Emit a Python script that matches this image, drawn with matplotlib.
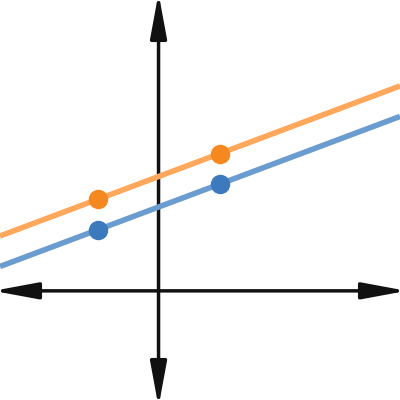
import numpy as np
import matplotlib
matplotlib.use("Agg")
import matplotlib.pyplot as plt

# two parallel lines, each through two marked points
point_x = [-1, 1]
blue_y = [1.0, 1.75]
orange_y = [1.5, 2.25]

xlim = (-2.6, 3.96)
ylim = (-1.79, 4.77)

fig = plt.figure(figsize=(4, 4), dpi=100)
ax = fig.add_axes([0, 0, 1, 1])
ax.set_xlim(xlim)
ax.set_ylim(ylim)
ax.axis("off")

# axes with arrow heads on both ends
arrow = dict(arrowstyle="<|-|>,head_length=1.35,head_width=0.25", color="#111111",
             lw=2.5, mutation_scale=20, shrinkA=0, shrinkB=0)
ax.annotate("", xy=(xlim[1] + 0.11, 0), xytext=(xlim[0] - 0.11, 0), arrowprops=arrow,
            annotation_clip=False)
ax.annotate("", xy=(0, ylim[1] + 0.11), xytext=(0, ylim[0] - 0.11), arrowprops=arrow,
            annotation_clip=False)

xs = np.array(xlim)
for ys, line_c, dot_c in [(blue_y, "#6a9ccf", "#3d7abd"), (orange_y, "#ffa85c", "#f5891f")]:
    m, b = np.polyfit(point_x, ys, 1)
    ax.plot(xs, m * xs + b, color=line_c, lw=4, solid_capstyle="butt", zorder=3)
    ax.plot(point_x, ys, "o", color=dot_c, ms=13, zorder=4)

fig.savefig("out.png", dpi=100)
